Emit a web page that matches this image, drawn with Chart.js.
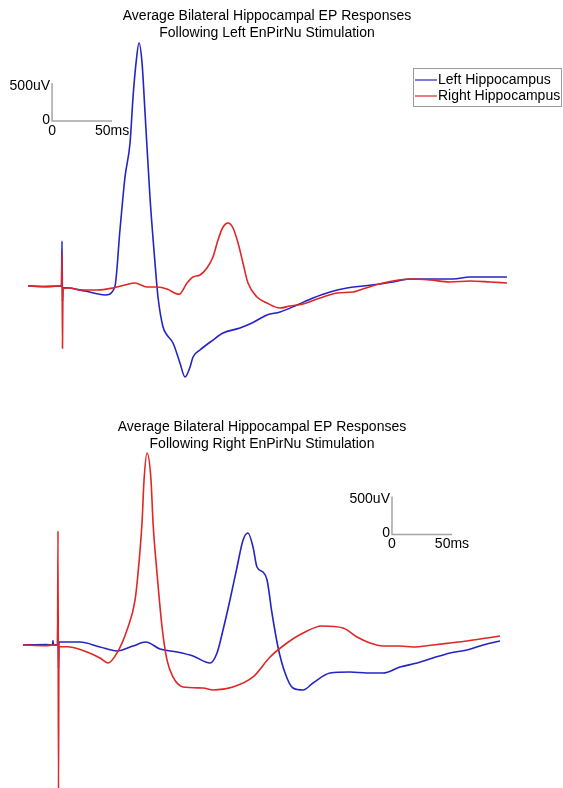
<!DOCTYPE html>
<html>
<head>
<meta charset="utf-8">
<script src="https://cdn.jsdelivr.net/npm/chart.js@4.4.0/dist/chart.umd.min.js"></script>
<style>
  body { margin: 0; background: #fff; }
  canvas { position: absolute; left: 0; }
</style>
</head>
<body>
<canvas id="topChart" width="563" height="394" style="top:0"></canvas>
<canvas id="bottomChart" width="563" height="394" style="top:394px"></canvas>

<script>
// [time ms after stimulus, amplitude uV]
const seriesNames = ['Left Hippocampus', 'Right Hippocampus'];
const titles = [
  ['Average Bilateral Hippocampal EP Responses', 'Following Left EnPirNu Stimulation'],
  ['Average Bilateral Hippocampal EP Responses', 'Following Right EnPirNu Stimulation']
];

// left EnPirNu stimulation
const leftStimLeftHipp = [
  [-28.3, 0], [-14, -10], [-2, 0], [-0.4, 0], [0, 590], [0.4, -200], [0.8, -20],
  [6.7, -26], [19, -66], [36, -118], [44, -13], [48.3, 737], [52.5, 1434], [56.7, 1882],
  [59.2, 2487], [61.7, 2935], [64.2, 3198], [66.7, 2935], [69.2, 2277], [73.3, 1171],
  [77.5, 303], [80, -145], [84.2, -540], [87.5, -645], [92.5, -750], [98.3, -1013],
  [102.5, -1198], [106.7, -1066], [109.2, -934], [115, -842], [125.8, -711], [134.2, -619],
  [148.3, -553], [158.3, -487], [170.8, -382], [181.7, -342], [195.8, -250], [209.2, -158],
  [223.3, -79], [237.5, -26], [250.8, 0], [265, 26], [275.8, 53], [290, 92], [306.7, 92],
  [325.8, 92], [340, 118], [359.2, 118], [370.8, 118]
];
const leftStimRightHipp = [
  [-28.3, 0], [-14, -5], [-2, 0], [-0.4, 0], [0, 430], [0.4, -820], [0.8, -30],
  [6.7, -26], [15, -53], [29.2, -53], [42.5, -26], [52.5, 13], [60.8, 39], [70.8, -13],
  [79.2, -13], [87.5, -39], [97.5, -110], [104.2, 39], [109.2, 118], [115, 145],
  [120.8, 237], [125.8, 382], [130, 605], [134.2, 776], [138.3, 829], [142.5, 763],
  [146.7, 566], [150.8, 303], [155, 39], [162.5, -145], [170.8, -224], [181.7, -290],
  [190, -263], [200.8, -237], [215, -158], [229.2, -92], [242.5, -79], [248.3, -53],
  [267.5, 39], [290, 92], [306.7, 79], [323.3, 53], [340, 66], [356.7, 53], [370.8, 39]
];

// right EnPirNu stimulation
const rightStimLeftHipp = [
  [-29.2, 0], [-10, 5], [-4.6, 0], [-4.2, 60], [-3.8, 0], [-0.4, 0], [0, 460], [0.4, -300],
  [0.8, 40], [4.2, 39], [18.3, 39], [35, -26], [49.2, -79], [62.5, -13], [73.3, 39],
  [85, -53], [99.2, -92], [112.5, -145], [126.7, -237], [132.5, -105], [137.5, 197],
  [143.3, 592], [149.2, 1026], [154.2, 1382], [158.3, 1474], [162.5, 1290], [165.8, 1026],
  [170.8, 961], [174.2, 855], [178.3, 421], [183.3, -26], [189.2, -368], [195.8, -566],
  [204.2, -592], [212.5, -500], [226.7, -368], [243.3, -355], [257.5, -368], [270.8, -368],
  [285, -290], [299.2, -237], [312.5, -171], [326.7, -105], [340.8, -66], [354.2, 0], [368.3, 53]
];
const rightStimRightHipp = [
  [-29.2, 0], [-10, -10], [-4.6, 0], [-0.4, 0], [0, 1500], [0.4, -1950], [0.8, -20],
  [10, -26], [24.2, -92], [35, -171], [41.7, -237], [49.2, -105], [57.5, 197], [64.2, 592],
  [66.7, 948], [70, 1606], [71.7, 2171], [74.2, 2527], [77.5, 2171], [79.2, 1606],
  [82.5, 948], [86.7, 237], [90.8, -197], [95.8, -421], [104.2, -553], [120.8, -566],
  [129.2, -592], [145.8, -553], [162.5, -421], [176.7, -158], [190.8, 26], [204.2, 158],
  [220, 250], [237.5, 224], [249.2, 105], [260, 26], [270.8, -13], [285, -13], [295.8, -26],
  [312.5, 0], [326.7, 26], [340.8, 53], [357.5, 92], [368.3, 118]
];

// scale bars: corner [ms, uV], size [ms, uV]
const scaleBarSize = [50, 500];
const scaleBarLabels = ['500uV', '50ms'];
const scaleBarTop = [-8.3, 2170];
const scaleBarBottom = [278.3, 1455];

const BLUE = '#2424c6';
const RED = '#e02626';

const annotPlugin = {
  id: 'epAnnot',
  afterDraw(chart, args, opts) {
    const ctx = chart.ctx;
    const xs = chart.scales.x, ys = chart.scales.y;
    ctx.save();
    ctx.font = '14px "Liberation Sans", Arial, sans-serif';
    ctx.fillStyle = '#000';
    ctx.textBaseline = 'middle';

    ctx.textAlign = 'center';
    opts.title.forEach((line, i) => ctx.fillText(line, opts.titleX, opts.titleY + i * 17));

    // scale bar labels
    const [t0, v0] = opts.bar;
    const cx = xs.getPixelForValue(t0), cy = ys.getPixelForValue(v0);
    const topY = ys.getPixelForValue(v0 + scaleBarSize[1]);
    const rightX = xs.getPixelForValue(t0 + scaleBarSize[0]);
    ctx.textAlign = 'right';
    ctx.fillText(scaleBarLabels[0], cx - 2, topY + 3);
    ctx.fillText('0', cx - 2, cy - 1);
    ctx.textAlign = 'center';
    ctx.fillText('0', cx, cy + 10);
    ctx.fillText(scaleBarLabels[1], rightX, cy + 10);

    if (opts.legend) {
      const L = opts.legend;
      ctx.strokeStyle = '#9a9a9a';
      ctx.lineWidth = 1;
      ctx.strokeRect(L.x + 0.5, L.y + 0.5, L.w, L.h);
      ctx.textAlign = 'left';
      seriesNames.forEach((name, i) => {
        const ds = chart.data.datasets[i];
        const y = L.y + 12 + i * 16;
        ctx.strokeStyle = ds.borderColor;
        ctx.lineWidth = 1.2;
        ctx.beginPath();
        ctx.moveTo(L.x + 2, y);
        ctx.lineTo(L.x + 24, y);
        ctx.stroke();
        ctx.fillText(name, L.x + 25, y);
      });
    }
    ctx.restore();
  }
};

function toXY(arr) {
  return arr.map(p => ({ x: p[0], y: p[1] }));
}

function barPoints(corner) {
  return [
    { x: corner[0], y: corner[1] + scaleBarSize[1] },
    { x: corner[0], y: corner[1] },
    { x: corner[0] + scaleBarSize[0], y: corner[1] }
  ];
}

function makeChart(id, left, right, bar, range, annot) {
  return new Chart(document.getElementById(id), {
    type: 'line',
    data: {
      datasets: [
        { label: seriesNames[0], data: toXY(left), borderColor: BLUE, borderWidth: 1.6,
          cubicInterpolationMode: 'monotone', order: 2 },
        { label: seriesNames[1], data: toXY(right), borderColor: RED, borderWidth: 1.6,
          cubicInterpolationMode: 'monotone', order: 1 },
        { label: 'scale', data: barPoints(bar), borderColor: '#a5a5a5', borderWidth: 1.5,
          tension: 0, order: 3 }
      ]
    },
    options: {
      responsive: false,
      animation: false,
      devicePixelRatio: 1,
      layout: { padding: 0 },
      elements: { point: { radius: 0 } },
      scales: {
        x: { type: 'linear', display: false, min: range[0], max: range[1] },
        y: { type: 'linear', display: false, min: range[2], max: range[3] }
      },
      plugins: {
        legend: { display: false },
        tooltip: { enabled: false },
        epAnnot: annot
      }
    },
    plugins: [annotPlugin]
  });
}

makeChart('topChart', leftStimLeftHipp, leftStimRightHipp, scaleBarTop,
  [-51.67, 417.5, -1421, 3763],
  { title: titles[0], titleX: 267, titleY: 16, bar: scaleBarTop,
    legend: { x: 413, y: 68, w: 148, h: 38 } });

makeChart('bottomChart', rightStimLeftHipp, rightStimRightHipp, scaleBarBottom,
  [-48.33, 420.8, -1882, 3303],
  { title: titles[1], titleX: 262, titleY: 33, bar: scaleBarBottom });
</script>
</body>
</html>
